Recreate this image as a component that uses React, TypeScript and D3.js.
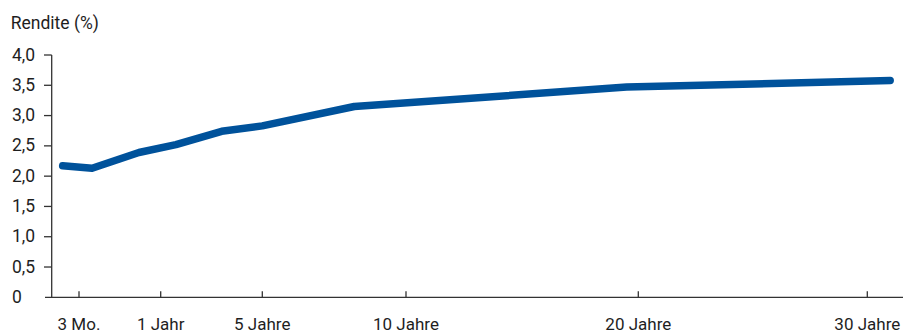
import React from "react";
import * as d3 from "d3";

// Yield curve: maturity in years vs. yield in percent
const maturities = [0.1, 0.37, 0.8, 1.6, 3.4, 5, 8.2, 19.5, 31];
const yields = [2.17, 2.13, 2.39, 2.52, 2.74, 2.83, 3.15, 3.47, 3.58];

const xTickValues = [0.25, 1, 5, 10, 20, 30];
const xTickLabels = ["3 Mo.", "1 Jahr", "5 Jahre", "10 Jahre", "20 Jahre", "30 Jahre"];
const yTickValues = [0, 0.5, 1, 1.5, 2, 2.5, 3, 3.5, 4];

const W = 903;
const H = 334;
const FONT = "Roboto, 'Noto Sans', sans-serif";
const AXIS = "#333";
const LINE = "#00529b";
const TEXT = "#1e1e1e";

export default function App() {
  // Maturity axis is not uniform: each tick interval gets its own stretch
  const x = d3
    .scaleLinear()
    .domain(xTickValues)
    .range([79, 160.7, 262.3, 406, 638.3, 867.3]);
  const y = d3.scaleLinear().domain([0, 4]).range([297.3, 55]);

  const points: [number, number][] = maturities.map((m, i) => [m, yields[i]]);
  const line = d3
    .line<[number, number]>()
    .x((d) => x(d[0]))
    .y((d) => y(d[1]));

  const fmt = (v: number) => (v === 0 ? "0" : d3.format(".1f")(v).replace(".", ","));
  const axisX = 51.7;
  const baseY = y(0);

  return (
    <svg
      width={W}
      height={H}
      style={{ position: "absolute", left: 0, top: 0, display: "block", background: "#fff" }}
      fontFamily={FONT}
    >
      <text x={10.7} y={29.3} fontSize={17.5} fill={TEXT}>
        Rendite (%)
      </text>

      {/* y axis */}
      <line x1={axisX} x2={axisX} y1={y(4)} y2={baseY} stroke={AXIS} strokeWidth={1.3} />
      {yTickValues.map((v) => (
        <g key={v}>
          {v > 0 && (
            <line x1={44} x2={axisX} y1={y(v)} y2={y(v)} stroke={AXIS} strokeWidth={1.3} />
          )}
          <text x={12} y={y(v) + 5.5} fontSize={17.5} fill={TEXT}>
            {fmt(v)}
          </text>
        </g>
      ))}

      {/* x axis */}
      <line x1={45} x2={W} y1={baseY} y2={baseY} stroke={AXIS} strokeWidth={1.3} />
      {xTickValues.map((v, i) => (
        <g key={v}>
          <line x1={x(v)} x2={x(v)} y1={baseY - 6} y2={baseY} stroke={AXIS} strokeWidth={1.3} />
          <text x={x(v)} y={329.5} fontSize={17} fill={TEXT} textAnchor="middle">
            {xTickLabels[i]}
          </text>
        </g>
      ))}

      <path
        d={line(points) || ""}
        fill="none"
        stroke={LINE}
        strokeWidth={7.5}
        strokeLinecap="round"
        strokeLinejoin="round"
      />
    </svg>
  );
}
